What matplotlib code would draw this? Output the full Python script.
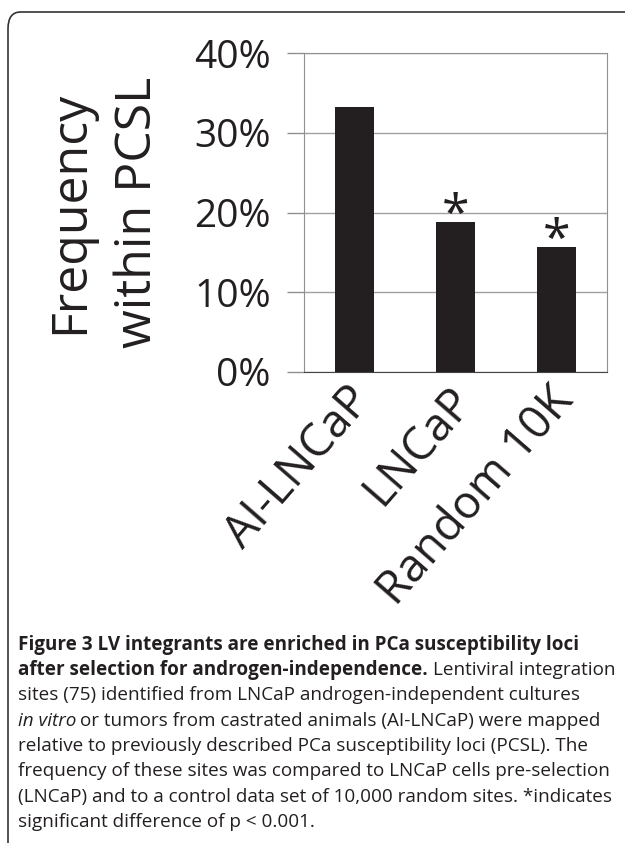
import matplotlib.pyplot as plt
from matplotlib.patches import FancyBboxPatch
from matplotlib.transforms import ScaledTranslation

# data
groups = ['AI-LNCaP', 'LNCaP', 'Random 10K']
freq = [33.2, 18.8, 15.7]
signif = [False, True, True]
y_ticks = [0, 10, 20, 30, 40]
y_tick_labels = ['0%', '10%', '20%', '30%', '40%']

bar_color = '#231f20'
font = 'Open Sans'

W, H = 625, 843
fig = plt.figure(figsize=(W / 100, H / 100), dpi=100)


def fx(px):
    return px / W


def fy(py):
    return 1 - py / H


# rounded frame around figure (right side cut off like the reference)
frame = FancyBboxPatch((fx(8), fy(870)), fx(660), fy(12) - fy(870),
                       boxstyle='round,pad=0,rounding_size=0.02',
                       transform=fig.transFigure, fill=False,
                       edgecolor='#333333', linewidth=1.2)
fig.patches.append(frame)

ax = fig.add_axes([fx(304), fy(372), fx(607) - fx(304), fy(53) - fy(372)])
x = range(len(groups))
ax.bar(x, freq, width=0.38, color=bar_color, zorder=3)
for i, (v, s) in enumerate(zip(freq, signif)):
    if s:
        ax.text(i, v - 1.0, '*', ha='center', va='baseline', fontsize=36,
                family=font, color='#231f20', zorder=4)

ax.set_xlim(-0.5, 2.5)
ax.set_ylim(0, 40)
ax.set_yticks(y_ticks)
ax.set_yticklabels(y_tick_labels, family=font, fontsize=28, color='#231f20')
ax.yaxis.grid(True, color='#a0a0a0', linewidth=1)
ax.set_axisbelow(True)
ax.tick_params(axis='y', length=12, width=1, color='#909090', pad=12)
ax.tick_params(axis='x', length=0, pad=6)
ax.set_xticks(list(x))
ax.set_xticklabels(groups, rotation=49, ha='right', rotation_mode='anchor',
                   family=font, fontsize=33, color='#231f20')
shift = ScaledTranslation(-0.08, 0.02, fig.dpi_scale_trans)
for lab in ax.get_xticklabels():
    lab.set_transform(lab.get_transform() + shift)
for side in ['left', 'top', 'right']:
    ax.spines[side].set_color('#909090')
ax.spines['bottom'].set_color('#444444')
ax.set_ylabel('Frequency\nwithin PCSL', family=font, fontsize=36,
              color='#231f20', linespacing=1.5, labelpad=22)

# caption
cap_size = 13.6
line_y = [650, 675, 700, 726, 751, 776, 802, 827]
cap_x = fx(18)
fig.text(cap_x, fy(line_y[0]),
         'Figure 3 LV integrants are enriched in PCa susceptibility loci',
         fontsize=cap_size, weight='bold', family=font, va='baseline',
         color='#231f20')

fig.canvas.draw()
r = fig.canvas.get_renderer()
t = fig.text(cap_x, fy(line_y[1]), 'after selection for androgen-independence.',
             fontsize=cap_size, weight='bold', family=font, va='baseline',
             color='#231f20')
bb = t.get_window_extent(r)
fig.text(bb.x1 / W + fx(5), fy(line_y[1]), 'Lentiviral integration',
         fontsize=cap_size, family=font, va='baseline', color='#231f20')
fig.text(cap_x, fy(line_y[2]),
         'sites (75) identified from LNCaP androgen-independent cultures',
         fontsize=cap_size, family=font, va='baseline', color='#231f20')
t = fig.text(cap_x, fy(line_y[3]), 'in vitro', fontsize=cap_size,
             style='italic', family=font, va='baseline', color='#231f20')
bb = t.get_window_extent(r)
fig.text(bb.x1 / W + fx(4), fy(line_y[3]),
         'or tumors from castrated animals (AI-LNCaP) were mapped',
         fontsize=cap_size, family=font, va='baseline', color='#231f20')
rest = [
    'relative to previously described PCa susceptibility loci (PCSL). The',
    'frequency of these sites was compared to LNCaP cells pre-selection',
    '(LNCaP) and to a control data set of 10,000 random sites. *indicates',
    'significant difference of p < 0.001.',
]
for line, yy in zip(rest, line_y[4:]):
    fig.text(cap_x, fy(yy), line, fontsize=cap_size, family=font,
             va='baseline', color='#231f20')

fig.savefig('out.png', dpi=100)
